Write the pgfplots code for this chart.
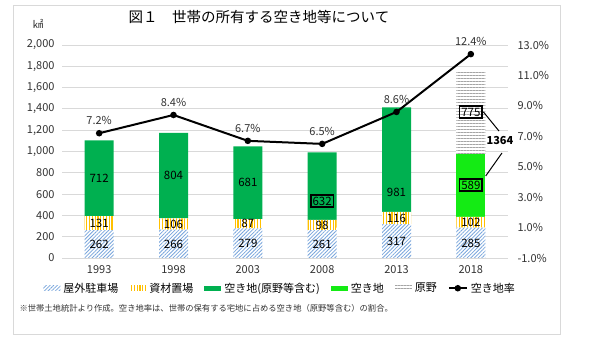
\documentclass[border=0pt]{standalone}
\usepackage{pgfplots}
\pgfplotsset{compat=1.18}
\usepackage{fontspec}
\setmainfont{Noto Sans CJK JP}
\usetikzlibrary{patterns.meta}
\definecolor{dgreen}{RGB}{0,176,80}
\definecolor{lgreen}{RGB}{20,235,20}
\definecolor{hblue}{RGB}{120,165,220}
\definecolor{hyellow}{RGB}{255,192,0}
\definecolor{hgray}{RGB}{165,165,165}
\definecolor{gridc}{RGB}{217,217,217}
\definecolor{txt}{RGB}{50,50,50}
\pgfplotsset{
  bleg/.style={legend image code/.code={\fill[##1, draw=none] (0pt,-2.5pt) rectangle (17pt,2.5pt);}},
  common/.style={
    at={(62pt,81pt)}, anchor=south west,
    width=446pt, height=213pt, scale only axis,
    xmin=-0.5, xmax=5.5,
    major tick length=0pt,
    /pgf/number format/assume math mode=true,
    tick label style={font=\fontsize{11}{13}\selectfont, text=txt},
  },
  lab/.style={draw=none, mark=none,
    nodes near coords, point meta=explicit symbolic,
    every node near coord/.append style={anchor=center, font=\fontsize{11.5}{13}\selectfont, text=black}},
}
\begin{document}
\begin{tikzpicture}
\draw[gridc, line width=0.8pt] (13pt,5pt) rectangle (560pt,334pt);
\node[font=\fontsize{14.5}{16}\selectfont] at (259pt,322pt) {図１　世帯の所有する空き地等について};
\node[font=\fontsize{10.5}{12}\selectfont, text=txt] at (38pt,315pt) {㎢};
\node[anchor=west, font=\fontsize{8.3}{10}\selectfont, text=txt] at (16pt,31pt) {※世帯土地統計より作成。空き地率は、世帯の保有する宅地に占める空き地（原野等含む）の割合。};

\begin{axis}[common,
  ybar stacked, bar width=29pt,
  ymin=0, ymax=2000,
  xtick={0,...,5}, xticklabels={1993,1998,2003,2008,2013,2018},
  ytick={0,200,...,2000},
  axis lines*=left, axis line style={draw=none},
  ymajorgrids, grid style={gridc, line width=0.8pt},
  yticklabel style={/pgf/number format/1000 sep={,}, xshift=-4pt},
  xticklabel style={yshift=-4pt},
  legend style={at={(0.489,-0.142)}, anchor=center, draw=none, fill=none,
    font=\fontsize{11}{13}\selectfont, legend columns=-1,
    /tikz/every even column/.append style={column sep=9pt},
    /tikz/every odd column/.append style={column sep=1pt}},
]
\addplot[bleg, draw=none, fill=white, postaction={pattern color=hblue, pattern={Lines[angle=45,distance=2.6pt,line width=0.8pt]}}]
  coordinates {(0,262) (1,266) (2,279) (3,261) (4,317) (5,285)};
\addlegendentry{屋外駐車場}
\addplot[bleg, draw=none, fill=white, postaction={pattern color=hyellow, pattern={Lines[angle=90,distance=2.8pt,line width=1.1pt]}}]
  coordinates {(0,131) (1,106) (2,87) (3,98) (4,116) (5,102)};
\addlegendentry{資材置場}
\addplot[bleg, draw=none, fill=dgreen]
  coordinates {(0,712) (1,804) (2,681) (3,632) (4,981) (5,0)};
\addlegendentry{空き地(原野等含む)\hspace{22pt}}
\addplot[bleg, draw=none, fill=lgreen]
  coordinates {(0,0) (1,0) (2,0) (3,0) (4,0) (5,589)};
\addlegendentry{空き地}
\addplot[bleg, draw=none, fill=white, postaction={pattern color=hgray, pattern={Lines[angle=0,distance=3pt,line width=0.8pt]}}]
  coordinates {(0,0) (1,0) (2,0) (3,0) (4,0) (5,775)};
\addlegendentry{原野}
\addlegendimage{black, line width=2pt, legend image code/.code={\draw[black, line width=2pt] (0pt,0pt) -- (18pt,0pt); \fill[black] (9pt,0pt) circle (2.2pt);}}
\addlegendentry{空き地率}
\end{axis}

\begin{axis}[common,
  ymin=-1, ymax=13,
  axis x line=none, axis y line*=right, axis line style={draw=none},
  ytick={-1,1,...,13},
  yticklabel={\pgfmathprintnumber[fixed,fixed zerofill,precision=1]{\tick}\%},
  yticklabel style={xshift=6pt},
]
\addplot[black, line width=2pt, mark=*, mark size=2.2pt,
  nodes near coords, point meta=explicit symbolic,
  every node near coord/.append style={font=\fontsize{11}{13}\selectfont, text=txt, yshift=4pt}]
  coordinates {(0,7.2) [7.2\%] (1,8.4) [8.4\%] (2,6.7) [6.7\%] (3,6.5) [6.5\%] (4,8.6) [8.6\%] (5,12.4) [12.4\%]};
\end{axis}

\begin{axis}[common, ymin=0, ymax=2000, hide axis]
\addplot[lab] coordinates {(0,125) [262] (1,130) [266] (2,135) [279] (3,125) [261] (4,160) [317] (5,140) [285]};
\addplot[lab] coordinates {(0,328) [131] (1,319) [106] (2,322) [87] (3,305) [98] (4,370) [116] (5,333) [102]};
\addplot[lab] coordinates {(0,752) [712] (1,772) [804] (2,706) [681] (4,612) [981]};
\addplot[lab, every node near coord/.append style={draw=black, line width=1.8pt, inner sep=1.8pt}]
  coordinates {(3,535) [632] (5,685) [589] (5,1371) [775]};
\addplot[black, line width=1pt] coordinates {(5.17,1371) (5.379,1192)};
\addplot[black, line width=1pt] coordinates {(5.20,770) (5.419,986)};
\addplot[lab, every node near coord/.append style={font=\bfseries\fontsize{11}{13}\selectfont}]
  coordinates {(5.392,1099) [1364]};
\end{axis}
\pgfresetboundingbox
\path[use as bounding box] (0pt,0pt) rectangle (590pt,339pt);
\end{tikzpicture}
\end{document}
